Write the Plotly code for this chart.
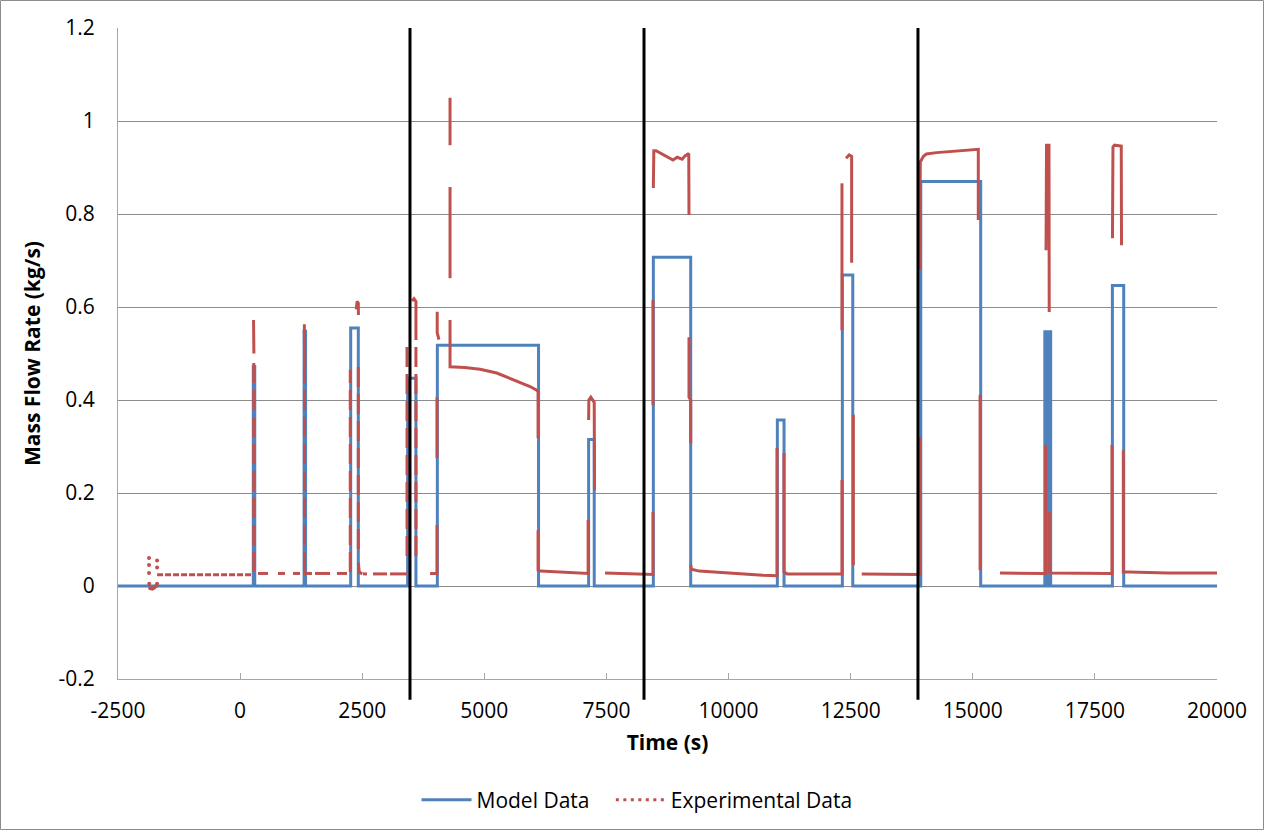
import plotly.graph_objects as go

N = None

# ---------------- Model data (step series) ----------------
model_time = [-2500, 270, 300, 1310, 1340, 2264, 2420, 3430, 3600, 4038, 6110,
              7135, 7250, 8460, 9225, 10999, 11136, 12330, 12543, 13935, 15162,
              16475, 16530, 16545, 16595, 17858, 18090, 20000]
model_flow = [0, 0.472, 0, 0.548, 0, 0.555, 0, 0.447, 0, 0.518, 0,
              0.315, 0, 0.707, 0, 0.357, 0, 0.669, 0, 0.870, 0,
              0.547, 0, 0.547, 0, 0.646, 0, 0]

# ---------------- Experimental data (solid-looking parts) ----------------
exp_time = [275, 282, N,
            1315, 1322, N,
            2380, 2395, 2420, 2422, N,
            2420, 2440, 2500, N,
            366, 571, N, 776, 919, N, 1083, 1226, N, 1288, 1472, N,
            1533, 1840, N, 1984, 2189, N,
            2516, 2598, N, 2721, 3008, N, 3069, 3417, N,
            3520, 3560, 3600, 3600, N,
            3890, 4030, 4031, 4031, N,
            4031, 4031, N,
            4035, 4035, 4070, N,
            4298, 4298, N, 4298, 4298, N,
            4298, 4298, 4600, 4912, 5254, 5594, 5936, 6073, 6100, 6100, N,
            6100, 6100, 6150, 6600, 7100, 7125, 7125, N,
            7135, 7140, 7180, 7250, 7255, N,
            7470, 8000, 8430, 8453, 8453, N,
            8453, 8453, N,
            8460, 8470, 8515, 8700, 8863, 8950, 9050, 9108, 9170, 9185, 9190, N,
            9190, 9190, 9225, 9225, N,
            9225, 9240, 9400, 9800, 10300, 10700, 10992, 10992, N,
            11135, 11135, 11200, 12000, 12322, 12322, N,
            12322, 12322, N,
            12405, 12470, 12520, 12520, N,
            12555, 12555, N,
            12726, 13500, 13920, 13920, N,
            13920, 13925, 13990, 14050, 14260, 14700, 15113, 15113, N,
            15150, 15150, N,
            15557, 16000, 16490, 16490, N,
            16500, 16510, 16560, 16565, N,
            16567, 16567, 16600, 17200, 17850, 17850, N,
            17860, 17870, 17900, 18040, 18045, N,
            18082, 18082, 18200, 19000, 20000]
exp_flow = [0.572, 0.50, N,
            0.563, 0.47, N,
            0.595, 0.612, 0.608, 0.583, N,
            0.05, 0.03, 0.026, N,
            0.027, 0.027, N, 0.027, 0.027, N, 0.027, 0.027, N, 0.027, 0.027, N,
            0.027, 0.027, N, 0.027, 0.027, N,
            0.026, 0.026, N, 0.026, 0.026, N, 0.026, 0.026, N,
            0.613, 0.618, 0.612, 0.572, N,
            0.027, 0.027, 0.027, 0.131, N,
            0.275, 0.406, N,
            0.59, 0.545, 0.53, N,
            1.05, 0.948, N, 0.858, 0.662, N,
            0.572, 0.4716, 0.470, 0.466, 0.458, 0.443, 0.429, 0.421, 0.418, 0.318, N,
            0.12, 0.034, 0.032, 0.029, 0.027, 0.027, 0.142, N,
            0.357, 0.40, 0.406, 0.395, 0.206, N,
            0.028, 0.026, 0.025, 0.025, 0.159, N,
            0.389, 0.615, N,
            0.856, 0.936, 0.936, 0.925, 0.916, 0.922, 0.918, 0.925, 0.93, 0.93, 0.798, N,
            0.535, 0.406, 0.40, 0.307, N,
            0.045, 0.036, 0.032, 0.029, 0.026, 0.023, 0.022, 0.297, N,
            0.286, 0.03, 0.026, 0.026, 0.026, 0.228, N,
            0.55, 0.866, N,
            0.92, 0.927, 0.924, 0.695, N,
            0.368, 0.045, N,
            0.026, 0.025, 0.025, 0.32, N,
            0.68, 0.912, 0.924, 0.929, 0.932, 0.935, 0.939, 0.787, N,
            0.411, 0.034, N,
            0.028, 0.027, 0.027, 0.303, N,
            0.722, 0.948, 0.948, 0.589, N,
            0.159, 0.03, 0.028, 0.027, 0.027, 0.303, N,
            0.748, 0.944, 0.948, 0.946, 0.733, N,
            0.292, 0.03, 0.03, 0.028, 0.028]

# ---------------- Experimental data (dashed-looking parts) ----------------
exp_dash_time = [280, 280, N,
                 1318, 1318, N,
                 2255, 2255, N,
                 2420, 2420, N,
                 3417, 3417, N,
                 3600, 3600]
exp_dash_flow = [0.03, 0.49, N,
                 0.03, 0.47, N,
                 0.03, 0.465, N,
                 0.471, 0.077, N,
                 0.514, 0.05, N,
                 0.572, 0.062]

# fine-dotted pre-test baseline
exp_pre_time = [-1700, 262]
exp_pre_flow = [0.024, 0.024]

# ---------------- Experimental start-up scatter ----------------
exp_burst_time = [-1865, -1865, -1865, -1860, -1840, -1800, -1760, -1720, -1700, -1700, -1700]
exp_burst_flow = [0.06, 0.045, 0.028, 0.005, -0.005, -0.006, -0.004, 0.0, 0.055, 0.04, 0.005]

# ---------------- Reference lines & ticks ----------------
marker_lines = [3478, 8269, 13878]
x_ticks = [-2500, 0, 2500, 5000, 7500, 10000, 12500, 15000, 17500, 20000]
x_tick_text = ["-2500", "0", "2500", "5000", "7500", "10000", "12500", "15000", "17500", "20000"]
y_ticks = [-0.2, 0, 0.2, 0.4, 0.6, 0.8, 1.0, 1.2]
y_tick_text = ["-0.2", "0", "0.2", "0.4", "0.6", "0.8", "1", "1.2"]

BLUE = "#4F81BD"
RED = "#C0504D"
FONT = "Open Sans"
FS = 21

fig = go.Figure()
fig.add_trace(go.Scatter(x=model_time, y=model_flow, mode="lines",
                         name="Model Data\u00a0\u00a0\u00a0",
                         line=dict(color=BLUE, width=3, shape="hv")))
fig.add_trace(go.Scatter(x=exp_pre_time, y=exp_pre_flow, mode="lines", showlegend=False,
                         line=dict(color=RED, width=3, dash="6px,2px")))
fig.add_trace(go.Scatter(x=exp_dash_time, y=exp_dash_flow, mode="lines", showlegend=False,
                         connectgaps=False,
                         line=dict(color=RED, width=3, dash="20px,7px")))
fig.add_trace(go.Scatter(x=exp_time, y=exp_flow, mode="lines", showlegend=False,
                         connectgaps=False, line=dict(color=RED, width=3)))
fig.add_trace(go.Scatter(x=exp_burst_time, y=exp_burst_flow, mode="markers", showlegend=False,
                         marker=dict(color=RED, size=4)))
fig.add_trace(go.Scatter(x=[None], y=[None], mode="lines", name="Experimental Data",
                         line=dict(color=RED, width=3, dash="3px,4.5px")))

shapes = []
for xv in marker_lines:
    shapes.append(dict(type="line", xref="x", yref="paper", x0=xv, x1=xv, y0=-0.032, y1=1.0,
                       line=dict(color="black", width=3), layer="above"))
# chart outer border
L, R, T, B = 118, 48, 28, 152
W, H = 1265, 831
pw, ph = W - L - R, H - T - B
shapes.append(dict(type="rect", xref="paper", yref="paper",
                   x0=(0.5 - L) / pw, x1=(W - 1.5 - L) / pw,
                   y0=-(B - 1.5) / ph, y1=(H - B - 0.5) / ph,
                   line=dict(color="#8c8c8c", width=1), layer="below"))

fig.update_layout(
    width=W, height=H,
    margin=dict(l=L, r=R, t=T, b=B, autoexpand=False),
    paper_bgcolor="white", plot_bgcolor="white",
    font=dict(family=FONT, size=FS, color="black"),
    shapes=shapes,
    showlegend=True,
    legend=dict(orientation="h", x=(637 - L) / pw, xanchor="center",
                y=-(800 - 679) / ph, yanchor="middle", itemwidth=50,
                font=dict(family=FONT, size=FS, color="black"),
                bgcolor="rgba(0,0,0,0)"),
)
fig.update_xaxes(range=[-2500, 20000], tickvals=x_ticks, ticktext=x_tick_text,
                 showgrid=False, zeroline=False, showline=True, linecolor="#a6a6a6", linewidth=1,
                 ticks="inside", ticklen=6, tickcolor="#a6a6a6", ticklabelstandoff=13,
                 title=dict(text="<b>Time (s)</b>", font=dict(family=FONT, size=FS), standoff=12),
                 automargin=False)
fig.update_yaxes(range=[-0.2, 1.2], tickvals=y_ticks, ticktext=y_tick_text,
                 showgrid=True, gridcolor="#8c8c8c", gridwidth=1, zeroline=False,
                 showline=True, linecolor="#a6a6a6", linewidth=1, ticks="",
                 ticklabelstandoff=18,
                 title=dict(text="<b>Mass Flow Rate (kg/s)</b>", font=dict(family=FONT, size=FS), standoff=12),
                 automargin=False)

fig.write_html("out.html", config={"displayModeBar": False},
               post_script="document.body.style.margin='0';document.body.style.overflow='hidden';")
